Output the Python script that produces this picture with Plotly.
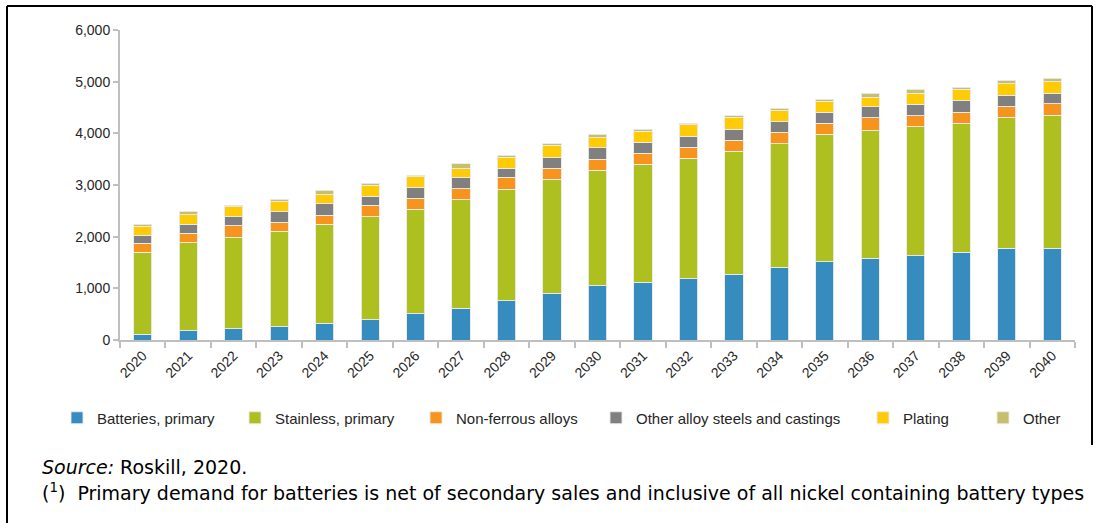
import plotly.graph_objects as go

years = [str(y) for y in range(2020, 2041)]

batteries = [116, 180, 219, 257, 323, 393, 509, 613, 755, 904, 1051,
             1122, 1186, 1271, 1413, 1515, 1587, 1631, 1697, 1774, 1780]
stainless = [1581, 1703, 1774, 1846, 1916, 1993, 2026, 2102, 2167, 2206, 2239,
             2284, 2330, 2386, 2386, 2465, 2463, 2496, 2502, 2535, 2568]
non_ferrous = [180, 187, 219, 180, 180, 220, 213, 213, 226, 218, 212,
               212, 219, 213, 220, 219, 252, 213, 207, 219, 224]
other_alloy = [155, 169, 174, 200, 218, 175, 213, 220, 180, 213, 219,
               213, 206, 213, 205, 207, 212, 221, 225, 213, 202]
plating = [174, 186, 193, 193, 188, 218, 199, 180, 213, 226, 194,
           213, 225, 232, 227, 219, 188, 218, 226, 219, 224]
other = [33, 71, 27, 46, 78, 39, 33, 83, 39, 31, 71,
         39, 33, 25, 32, 38, 72, 72, 33, 71, 72]

series_names = ["Batteries, primary", "Stainless, primary", "Non-ferrous alloys",
                "Other alloy steels and castings", "Plating", "Other"]
series_values = [batteries, stainless, non_ferrous, other_alloy, plating, other]
series_colors = ["#368BBF", "#AEBF20", "#F7941D", "#808080", "#FFCB05", "#C6BF6C"]
# left pixel of each legend label
legend_text_x = [97, 275, 456, 636, 903, 1023]

L, R, T, B = 120, 1075, 30, 340
W, H = 1097, 523
pw, ph = R - L, B - T

def px(x):
    return (x - L) / pw

def py(y):
    return (B - y) / ph

fig = go.Figure()
legend_layout = {}
for i, (name, vals, color) in enumerate(zip(series_names, series_values, series_colors)):
    lg = "legend" if i == 0 else f"legend{i + 1}"
    fig.add_trace(go.Bar(
        x=years, y=vals, name=name, legend=lg,
        marker=dict(color=color, line=dict(color="rgba(235,235,235,0.9)", width=1)),
    ))
    legend_layout[lg] = dict(
        orientation="h", x=px(legend_text_x[i] - 40), y=py(418),
        xanchor="left", yanchor="middle",
        font=dict(family="Liberation Sans, Arial, sans-serif", size=15, color="#262626"),
        itemwidth=30, itemclick=False, itemdoubleclick=False,
        bgcolor="rgba(0,0,0,0)",
    )

fig.update_layout(
    width=W, height=H,
    margin=dict(l=L, r=W - R, t=T, b=H - B, pad=0),
    barmode="stack",
    bargap=0.6,
    plot_bgcolor="white",
    paper_bgcolor="white",
    font=dict(family="Liberation Sans, Arial, sans-serif", size=12, color="#262626"),
    showlegend=True,
    xaxis=dict(
        type="category",
        tickangle=-45,
        showline=True, linecolor="#BFBFBF", linewidth=2,
        ticks="outside", tickson="boundaries", ticklen=6, tickcolor="#BFBFBF", tickwidth=2,
        showgrid=False,
        tickfont=dict(size=14, color="#262626"),
        range=[-0.5, 20.5],
    ),
    yaxis=dict(
        range=[0, 6000], dtick=1000, tickformat=",",
        showline=True, linecolor="#BFBFBF", linewidth=2,
        ticks="outside", ticklen=5, tickcolor="#BFBFBF", tickwidth=2,
        showgrid=False, zeroline=False,
        tickfont=dict(size=14, color="#262626"),
    ),
    **legend_layout,
)

# outer frame
frame = dict(type="line", xref="paper", yref="paper", line=dict(color="black", width=2))
fig.add_shape(**frame, x0=px(7), x1=px(7), y0=py(6), y1=py(523))
fig.add_shape(**frame, x0=px(7), x1=px(1092), y0=py(6), y1=py(6))
fig.add_shape(**frame, x0=px(1092), x1=px(1092), y0=py(6), y1=py(445))

foot_font = dict(family="DejaVu Sans, Verdana, sans-serif", size=19, color="black")
fig.add_annotation(
    text="<i>Source:</i> Roskill, 2020.", xref="paper", yref="paper",
    x=px(40), y=py(467), xanchor="left", yanchor="middle", showarrow=False, font=foot_font,
)
fig.add_annotation(
    text="(<sup>1</sup>)  Primary demand for batteries is net of secondary sales and inclusive of all nickel containing battery types",
    xref="paper", yref="paper",
    x=px(40), y=py(492), xanchor="left", yanchor="middle", showarrow=False, font=foot_font,
)

fig.write_html(
    "out.html",
    config={"displayModeBar": False},
    post_script="document.body.style.margin='0';document.body.style.overflow='hidden';",
)
